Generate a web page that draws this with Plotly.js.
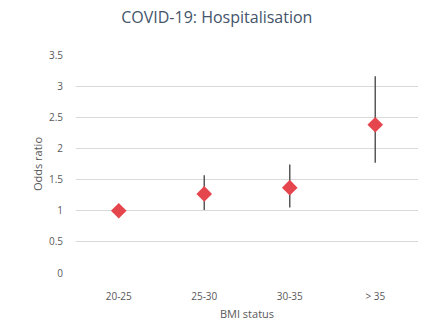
<!DOCTYPE html>
<html><head><meta charset="utf-8">
<script src="https://cdn.plot.ly/plotly-3.0.1.min.js"></script>
<style>html,body{margin:0;padding:0;background:#fff}#c{width:421px;height:325px}</style>
</head><body><div id="c"></div>
<script>
const categories = ["20-25", "25-30", "30-35", "> 35"];
const oddsRatio = [1.0, 1.27, 1.37, 2.38];
const ciUpper = [1.0, 1.57, 1.74, 3.16];
const ciLower = [1.0, 1.01, 1.05, 1.77];
const yTicks = [0, 0.5, 1, 1.5, 2, 2.5, 3, 3.5];

const trace = {
  x: categories, y: oddsRatio, type: "scatter", mode: "markers",
  marker: {symbol: "diamond", size: 12, color: "#E5464E"},
  error_y: {type: "data", symmetric: false,
    array: ciUpper.map((u, i) => u - oddsRatio[i]),
    arrayminus: ciLower.map((l, i) => oddsRatio[i] - l),
    color: "#595959", thickness: 1.5, width: 0},
  hoverinfo: "none"
};
const layout = {
  width: 421, height: 325,
  margin: {l: 76, r: 3, t: 55, b: 52},
  paper_bgcolor: "#fff", plot_bgcolor: "#fff",
  showlegend: false,
  font: {family: "Open Sans, sans-serif", color: "#595959", size: 10},
  title: {text: "COVID-19: Hospitalisation", x: 0.515, xanchor: "center", y: 0.945, yanchor: "middle",
    font: {family: "Open Sans, sans-serif", size: 16, color: "#44546A"}},
  xaxis: {type: "category", range: [-0.5, 3.5], showgrid: false, zeroline: false, showline: false,
    ticks: "outside", ticklen: 14, tickcolor: "rgba(0,0,0,0)",
    tickfont: {size: 10, color: "#595959"},
    title: {text: "BMI status", font: {size: 11, color: "#595959"}, standoff: 8}},
  yaxis: {range: [0, 3.5], tickvals: yTicks, ticktext: yTicks.map(String),
    showgrid: true, gridcolor: "#D9D9D9", gridwidth: 1, zeroline: false, showline: false,
    ticks: "outside", ticklen: 10, tickcolor: "rgba(0,0,0,0)",
    tickfont: {size: 10, color: "#595959"},
    title: {text: "Odds ratio", font: {size: 11, color: "#595959"}, standoff: 4}}
};
Plotly.newPlot("c", [trace], layout, {staticPlot: true, displayModeBar: false});
</script></body></html>
